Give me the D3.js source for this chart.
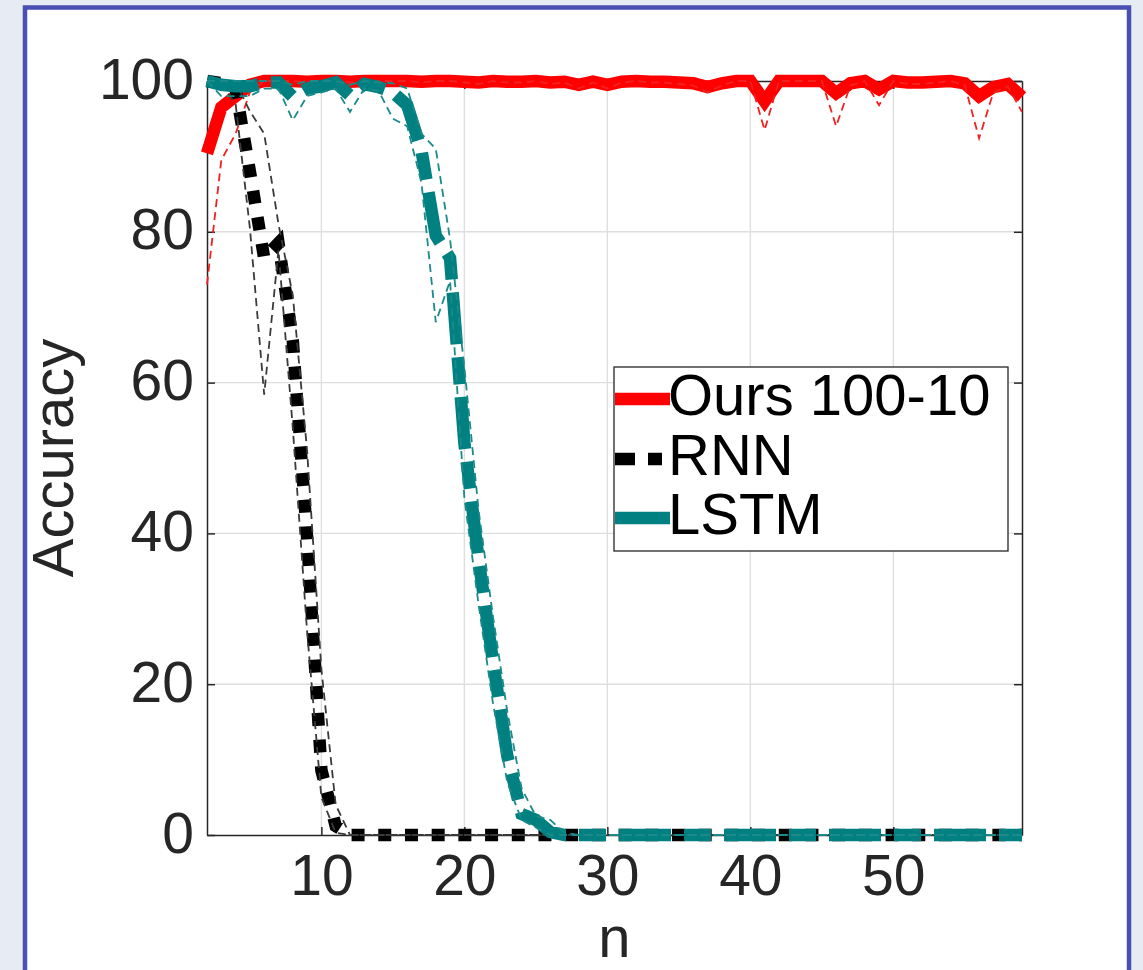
<!DOCTYPE html>
<html><head><meta charset="utf-8">
<script src="https://cdn.jsdelivr.net/npm/d3@7"></script>
<style>
html,body{margin:0;padding:0;background:#e7ebf3;}
svg{display:block;}
text{font-family:"Liberation Sans",Arial,Helvetica,sans-serif;}
</style></head><body>
<svg id="chart" width="1143" height="970"></svg>
<script>
// ---------------- data ----------------
const nValues = [2,3,4,5,6,7,8,9,10,11,12,13,14,15,16,17,18,19,20,21,22,23,24,25,26,27,28,29,30,31,32,33,34,35,36,37,38,39,40,41,42,43,44,45,46,47,48,49,50,51,52,53,54,55,56,57,58,59];

const oursMean = [90.4,96.5,98,99.5,100,100,100,99.9,100,100,
  99.9,100,100,100,100,99.9,100,100,99.9,99.8,
  100,99.9,99.9,100,99.8,99.9,99.5,99.9,99.5,99.9,
  100,99.9,99.9,99.8,99.7,99.2,99.7,100,100,97.3,
  100,100,100,100,98.4,99.7,100,98.9,100,99.8,
  99.8,99.9,100,99.7,98,99.2,99.6,97.9];
const oursMin = [73,89.5,93,98.5,100,100,100,99.8,100,100,
  99.8,100,100,100,100,99.8,100,100,99.8,99.6,
  100,99.8,99.8,100,99.6,99.8,99,99.8,99,99.8,
  100,99.8,99.8,99.6,99.4,98.5,99.4,100,100,93.5,
  100,100,100,100,94,99.4,100,96.8,100,99.6,
  99.6,99.8,100,99.4,92.4,98.5,99.3,95.9];

const rnnMean = [100,99.7,99,88,76.5,78.5,65.6,39.5,8.6,1.2,
  0,0,0,0,0,0,0,0,0,0,
  0,0,0,0,0,0,0,0,0,0,
  0,0,0,0,0,0,0,0,0,0,
  0,0,0,0,0,0,0,0,0,0,
  0,0,0,0,0,0,0,0];
const rnnMin = [100,99.5,97,80.5,58.4,77.6,54,27,5,0.3,
  0,0,0,0,0,0,0,0,0,0,
  0,0,0,0,0,0,0,0,0,0,
  0,0,0,0,0,0,0,0,0,0,
  0,0,0,0,0,0,0,0,0,0,
  0,0,0,0,0,0,0,0];
const rnnMax = [100,100,99.8,96,93,81,71.6,51,22,4,
  0,0,0,0,0,0,0,0,0,0,
  0,0,0,0,0,0,0,0,0,0,
  0,0,0,0,0,0,0,0,0,0,
  0,0,0,0,0,0,0,0,0,0,
  0,0,0,0,0,0,0,0];

const lstmMean = [100,99.5,99.3,99.3,99.8,99.8,97.9,99,99.3,99.8,
  98.1,99.6,99.2,98.5,96.8,90.8,79.5,76.5,52,36.5,
  23,10.5,2.8,2,0.4,0,0,0,0,0,
  0,0,0,0,0,0,0,0,0,0,
  0,0,0,0,0,0,0,0,0,0,
  0,0,0,0,0,0,0,0];
const lstmMin = [100,98,98,98,99,99,94.8,98,98.5,99,
  95.9,99,98.7,95,94,86.5,68,73.5,44.7,30.5,
  17.5,7,2,1,0,0,0,0,0,0,
  0,0,0,0,0,0,0,0,0,0,
  0,0,0,0,0,0,0,0,0,0,
  0,0,0,0,0,0,0,0];
const lstmMax = [100,100,100,100,100,100,99.5,100,100,100,
  99.5,100,99.8,99.7,99,93,91,79,62,43,
  29,16.4,6.2,2.5,2,0.3,0,0,0,0,
  0,0,0,0,0,0,0,0,0,0,
  0,0,0,0,0,0,0,0,0,0,
  0,0,0,0,0,0,0,0];

const xTicks = [10,20,30,40,50];
const yTicks = [0,20,40,60,80,100];
const legendLabels = ["Ours 100-10","RNN","LSTM"];

// ---------------- drawing ----------------
(function(){
const svg = d3.select("#chart");
const W = 1143, H = 970;
const pL = 207, pR = 1022, pT = 81, pB = 835;
const x = d3.scaleLinear().domain([2,59]).range([pL,pR]);
const y = d3.scaleLinear().domain([0,100]).range([pB,pT]);
const AX = "#262626";

// frame
svg.append("rect").attr("x",0).attr("y",0).attr("width",W).attr("height",H).attr("fill","#e7ebf3");
svg.append("rect").attr("x",25).attr("y",7.5).attr("width",1104).attr("height",1100)
  .attr("fill","#ffffff").attr("stroke","#4a4fb2").attr("stroke-width",4.5);

// grid
const grid = svg.append("g").attr("stroke","#dedede").attr("stroke-width",1.4);
grid.selectAll("line.gx").data(xTicks).join("line").attr("class","gx")
  .attr("x1",d=>x(d)).attr("x2",d=>x(d)).attr("y1",pT).attr("y2",pB);
grid.selectAll("line.gy").data(yTicks.filter(d=>d>0&&d<100)).join("line").attr("class","gy")
  .attr("y1",d=>y(d)).attr("y2",d=>y(d)).attr("x1",pL).attr("x2",pR);

// axes
function styleAxis(g){
  g.select(".domain").attr("stroke",AX).attr("stroke-width",1.5);
  g.selectAll(".tick line").attr("stroke",AX).attr("stroke-width",1.5);
  g.selectAll("text").attr("fill",AX).attr("font-size",57)
    .attr("font-family","'Liberation Sans',Arial,Helvetica,sans-serif");
}
svg.append("g").attr("transform",`translate(0,${pB})`)
  .call(d3.axisBottom(x).tickValues(xTicks).tickSize(-8).tickSizeOuter(0))
  .call(styleAxis)
  .call(g=>g.selectAll("text").attr("y",60).attr("dy",null));
svg.append("g").attr("transform",`translate(0,${pT})`)
  .call(d3.axisTop(x).tickValues(xTicks).tickSize(-8).tickSizeOuter(0).tickFormat(""))
  .call(styleAxis);
svg.append("g").attr("transform",`translate(${pL},0)`)
  .call(d3.axisLeft(y).tickValues(yTicks).tickSize(-8).tickSizeOuter(0))
  .call(styleAxis)
  .call(g=>g.selectAll("text").attr("x",-13).attr("dy",null).attr("y",17));
svg.append("g").attr("transform",`translate(${pR},0)`)
  .call(d3.axisRight(y).tickValues(yTicks).tickSize(-8).tickSizeOuter(0).tickFormat(""))
  .call(styleAxis);

// axis labels
svg.append("text").attr("x",(pL+pR)/2).attr("y",957).attr("text-anchor","middle")
  .attr("font-size",58).attr("fill",AX).text("n");
svg.append("text").attr("transform",`translate(73,${(pT+pB)/2}) rotate(-90)`)
  .attr("text-anchor","middle").attr("font-size",58).attr("fill",AX).text("Accuracy");

// series
const line = d3.line().x((d,i)=>x(nValues[i])).y(d=>y(d));
const series = [
  {thick:oursMean, thins:[oursMin], color:"#ff0000", thinColor:"#f22020", dash:null},
  {thick:rnnMean, thins:[rnnMin,rnnMax], color:"#000000", thinColor:"#3a3a3a", dash:"13,13.7"},
  {thick:lstmMean, thins:[lstmMin,lstmMax], color:"#008080", thinColor:"#1a8a8a", dash:"52,13,27,13"}
];
const lines = svg.append("g").attr("fill","none");
series.forEach(s=>{
  lines.append("path").attr("d",line(s.thick)).attr("stroke",s.color)
    .attr("stroke-width",12.5).attr("stroke-linejoin","miter").attr("stroke-linecap","butt")
    .attr("stroke-dasharray",s.dash);
  s.thins.forEach(t=>{
    lines.append("path").attr("d",line(t)).attr("stroke",s.thinColor)
      .attr("stroke-width",1.8).attr("stroke-dasharray","8,5");
  });
});

// legend
const lg = svg.append("g");
lg.append("rect").attr("x",614).attr("y",367).attr("width",394).attr("height",184)
  .attr("fill","#ffffff").attr("stroke",AX).attr("stroke-width",1.3);
const legendRows = [399,459,518];
const legendDash = [null,"20,13,14,50",null];
legendLabels.forEach((lab,i)=>{
  lg.append("line").attr("x1",615).attr("x2",670).attr("y1",legendRows[i]).attr("y2",legendRows[i])
    .attr("stroke",series[i].color).attr("stroke-width",12.5).attr("stroke-dasharray",legendDash[i]);
  lg.append("text").attr("x",668).attr("y",legendRows[i]+16).attr("font-size",58)
    .attr("fill","#000").text(lab);
});
})();
</script>
</body></html>
